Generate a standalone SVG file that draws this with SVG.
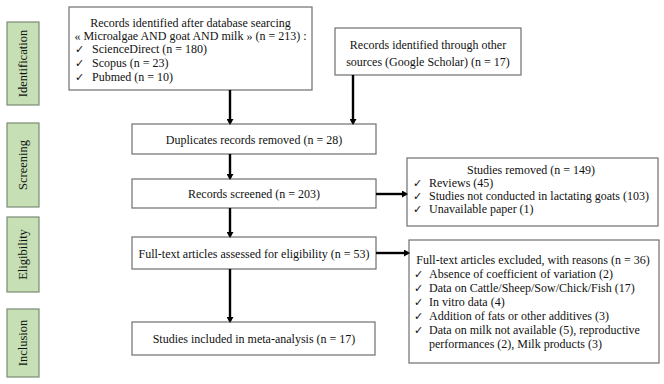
<svg xmlns="http://www.w3.org/2000/svg" width="664" height="384" viewBox="0 0 664 384" font-family="'Liberation Serif','Times New Roman',serif">
<defs>
<style>
.box{fill:#fff;stroke:#6f6f6f;stroke-width:1.2}
.side{fill:#c6dfb5;stroke:#7c8a74;stroke-width:1.2}
text{font-family:"Liberation Serif","Times New Roman",serif;font-size:12px;fill:#111}
.c{text-anchor:middle}
.sl{font-size:12.5px}
text.ck{font-family:"DejaVu Sans",sans-serif;font-size:11px}
.ar{stroke:#000;stroke-width:2.4;fill:none;marker-end:url(#ah)}
</style>
<marker id="ah" markerWidth="7" markerHeight="7" refX="4" refY="3.5" orient="auto" markerUnits="userSpaceOnUse">
<path d="M0,0 L6,3.5 L0,7 Z" fill="#000"/>
</marker>
</defs>
<rect width="664" height="384" fill="#fff"/>

<g id="stage-identification"><rect class="side" x="7" y="22" width="32" height="83"/><text class="c sl" transform="translate(27,63.5) rotate(-90)">Identification</text></g>
<g id="stage-screening"><rect class="side" x="7" y="123" width="32" height="84"/><text class="c sl" transform="translate(27,165) rotate(-90)">Screening</text></g>
<g id="stage-eligibility"><rect class="side" x="7" y="217" width="32" height="75"/><text class="c sl" transform="translate(27,254.5) rotate(-90)">Eligibility</text></g>
<g id="stage-inclusion"><rect class="side" x="7" y="309" width="32" height="68"/><text class="c sl" transform="translate(27,343) rotate(-90)">Inclusion</text></g>

<g id="db-search"><rect class="box" x="69" y="7" width="243" height="83"/>
<text class="c" x="190.5" y="27">Records identified after database searcing</text>
<text class="c" x="190.5" y="40">« Microalgae AND goat AND milk » (n = 213) :</text>
<text class="ck" x="75" y="53">✓</text><text x="92" y="53">ScienceDirect  (n = 180)</text>
<text class="ck" x="75" y="67">✓</text><text x="92" y="67">Scopus (n = 23)</text>
<text class="ck" x="75" y="81">✓</text><text x="92" y="81">Pubmed (n = 10)</text>
</g>

<g id="other-sources"><rect class="box" x="335" y="28" width="186" height="47"/>
<text class="c" x="428" y="49">Records identified through other</text>
<text class="c" x="428" y="66">sources (Google Scholar) (n = 17)</text>
</g>

<g id="duplicates"><rect class="box" x="132" y="124" width="244" height="30"/>
<text class="c" x="254" y="144">Duplicates records removed (n = 28)</text></g>

<g id="screened"><rect class="box" x="132" y="179" width="244" height="29"/>
<text class="c" x="254" y="198">Records screened (n = 203)</text></g>

<g id="fulltext"><rect class="box" x="132" y="237" width="244" height="32"/>
<text class="c" x="254" y="258">Full-text articles assessed for eligibility (n = 53)</text></g>

<g id="included"><rect class="box" x="132" y="322" width="243" height="33"/>
<text class="c" x="254" y="343">Studies included in meta-analysis (n = 17)</text></g>

<g id="removed"><rect class="box" x="407" y="158" width="251" height="68"/>
<text class="c" x="531" y="174">Studies removed (n = 149)</text>
<text class="ck" x="413" y="187">✓</text><text x="429" y="187">Reviews (45)</text>
<text class="ck" x="413" y="200">✓</text><text x="429" y="200">Studies not conducted in lactating goats (103)</text>
<text class="ck" x="413" y="213">✓</text><text x="429" y="213">Unavailable paper (1)</text>
</g>

<g id="excluded"><rect class="box" x="409" y="240" width="250" height="123"/>
<text class="c" x="533" y="264">Full-text articles excluded, with reasons (n = 36)</text>
<text class="ck" x="414" y="278">✓</text><text x="429" y="278">Absence of coefficient of variation (2)</text>
<text class="ck" x="414" y="292">✓</text><text x="429" y="292">Data on Cattle/Sheep/Sow/Chick/Fish (17)</text>
<text class="ck" x="414" y="306">✓</text><text x="429" y="306">In vitro data (4)</text>
<text class="ck" x="414" y="320">✓</text><text x="429" y="320">Addition of fats or other additives (3)</text>
<text class="ck" x="414" y="334">✓</text><text x="429" y="334">Data on milk not available (5), reproductive</text>
<text x="429" y="348">performances (2), Milk products (3)</text>
</g>

<g id="connectors">
<line class="ar" x1="230" y1="90" x2="230" y2="123"/>
<line class="ar" x1="353" y1="75" x2="353" y2="123"/>
<line class="ar" x1="230" y1="154" x2="230" y2="178"/>
<line class="ar" x1="230" y1="208" x2="230" y2="236"/>
<line class="ar" x1="230" y1="269" x2="230" y2="321"/>
<line class="ar" x1="376" y1="194" x2="406" y2="194"/>
<line class="ar" x1="376" y1="253" x2="408" y2="253"/>
</g>
</svg>
